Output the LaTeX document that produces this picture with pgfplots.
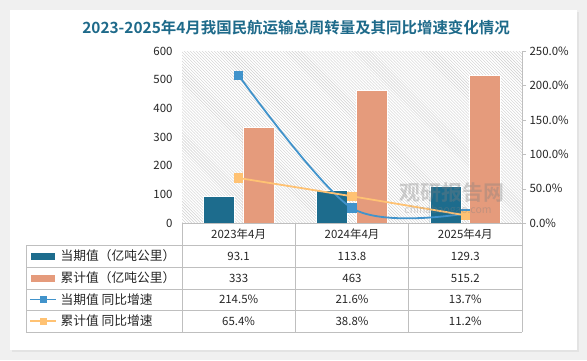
\documentclass[border=0pt]{standalone}
\usepackage{pgfplots}
\pgfplotsset{compat=1.18}
\usepackage{fontspec}
\setmainfont{Noto Sans CJK SC}[BoldFont={Noto Sans CJK SC Bold}]
\usetikzlibrary{patterns}
\definecolor{tealc}{HTML}{1D6C8D}
\definecolor{salmonc}{HTML}{E59B7C}
\definecolor{bluec}{HTML}{4193CB}
\definecolor{orangec}{HTML}{FFC273}
\definecolor{titlec}{HTML}{1E6A8A}
\definecolor{gridc}{HTML}{BFBFBF}
\begin{document}
\begin{tikzpicture}[x=1bp,y=1bp]
\useasboundingbox (0,0) rectangle (587,360);
\fill[gray!12] (0,0) rectangle (587,360);
\fill[gray!22] (12,8) rectangle (579,348);
\fill[white] (10,10) rectangle (577,350);
\node[font=\bfseries\fontsize{15.5}{17}\selectfont, text=titlec] at (296,332) {2023-2025年4月我国民航运输总周转量及其同比增速变化情况};
\begin{axis}[at={(182bp,137bp)}, anchor=south west, width=340bp, height=172bp, scale only axis,
  xmin=-0.5, xmax=2.5, ymin=0, ymax=600, ytick={0,100,...,600}, xtick=\empty,
  axis line style={draw=none}, major tick length=0,
  ticklabel style={font=\fontsize{11.5}{13}\selectfont, text=black!85},
  yticklabel style={xshift=-6bp},
  /pgf/number format/assume math mode=true,
  axis background/.style={pattern=north west lines, pattern color=gray!38}]
\addplot[ybar, bar width=0.274, bar shift=-0.175, fill=tealc, draw=white, line width=0.8bp] coordinates {(0,93.1) (1,113.8) (2,129.3)};
\addplot[ybar, bar width=0.274, bar shift=0.175, fill=salmonc, draw=white, line width=0.8bp] coordinates {(0,333) (1,463) (2,515.2)};
\end{axis}
\begin{axis}[at={(182bp,137bp)}, anchor=south west, width=340bp, height=172bp, scale only axis,
  xmin=-0.5, xmax=2.5, ymin=0, ymax=250, ytick={0,50,...,250},
  axis y line*=right, axis x line=none,
  yticklabel={\pgfmathprintnumber[fixed,fixed zerofill,precision=1]{\tick}\%},
  y axis line style={gridc}, ytick style={gridc}, tick align=outside, major tick length=4bp,
  ticklabel style={font=\fontsize{11.5}{13}\selectfont, text=black!85},
  /pgf/number format/assume math mode=true]
\addplot[smooth, color=bluec, line width=1.8bp, mark=square*, mark size=3.8bp, mark options={fill=bluec}] coordinates {(0,214.5) (1,21.6) (2,13.7)};
\addplot[smooth, color=orangec, line width=1.8bp, mark=square*, mark size=3.8bp, mark options={fill=orangec}] coordinates {(0,65.4) (1,38.8) (2,11.2)};
\end{axis}
% watermark
\node[font=\bfseries\fontsize{21}{22}\selectfont, text=gray, opacity=0.35] at (452,167) {观研报告网};
\node[font=\fontsize{10.5}{12}\selectfont, text=gray, opacity=0.35] at (448,149) {chinabaogao.com};
% table
\draw[gridc, line width=0.8bp] (182,137) -- (522,137);
\foreach \yy in {115,93,71,50,28} {\draw[gridc, line width=0.8bp] (26,\yy) -- (522,\yy);}
\foreach \xx in {182,295.3,408.7,522} {\draw[gridc, line width=0.8bp] (\xx,137) -- (\xx,28);}
\draw[gridc, line width=0.8bp] (26,115) -- (26,28);
\begin{scope}[every node/.style={font=\fontsize{11.5}{13}\selectfont, text=black!85}]
\node at (238.6,126) {2023年4月};
\node at (352,126) {2024年4月};
\node at (465.3,126) {2025年4月};
\node at (238.6,104) {93.1};
\node at (352,104) {113.8};
\node at (465.3,104) {129.3};
\node at (238.6,82) {333};
\node at (352,82) {463};
\node at (465.3,82) {515.2};
\node at (238.6,60.5) {214.5\%};
\node at (352,60.5) {21.6\%};
\node at (465.3,60.5) {13.7\%};
\node at (238.6,39) {65.4\%};
\node at (352,39) {38.8\%};
\node at (465.3,39) {11.2\%};
\node[anchor=west, font=\fontsize{12.8}{14}\selectfont] at (57,104) {当期值（亿吨公里）};
\node[anchor=west, font=\fontsize{12.8}{14}\selectfont] at (57,82) {累计值（亿吨公里）};
\node[anchor=west, font=\fontsize{12.8}{14}\selectfont] at (57,60.5) {当期值 同比增速};
\node[anchor=west, font=\fontsize{12.8}{14}\selectfont] at (57,39) {累计值 同比增速};
\end{scope}
\fill[tealc] (31,100.5) rectangle (55,107.5);
\fill[salmonc] (31,78.5) rectangle (55,85.5);
\draw[bluec, line width=1.8bp] (30,60.5) -- (56,60.5);
\fill[bluec] (39.5,57) rectangle (46.5,64);
\draw[orangec, line width=1.8bp] (30,39) -- (56,39);
\fill[orangec] (39.5,35.5) rectangle (46.5,42.5);
\end{tikzpicture}
\end{document}
